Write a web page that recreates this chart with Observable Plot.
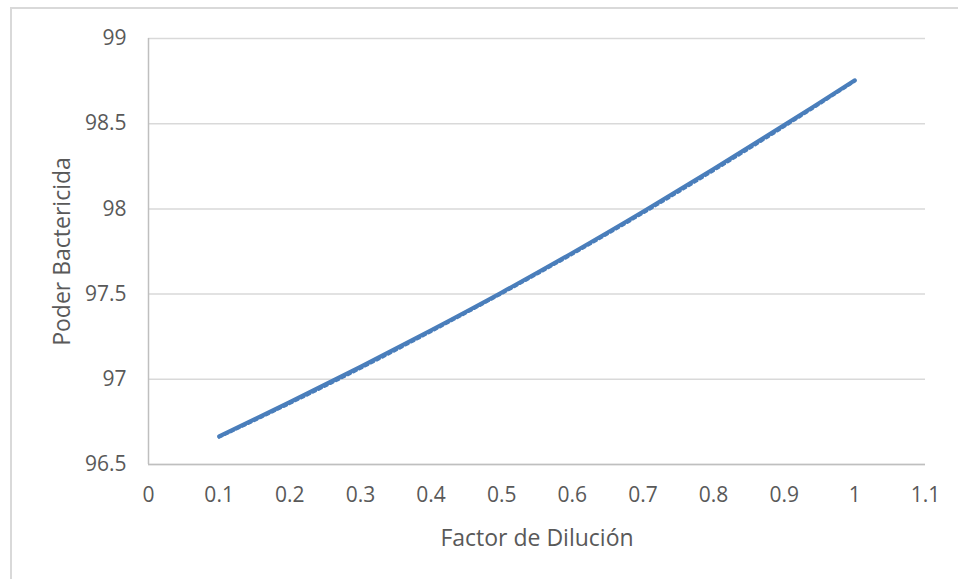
<!DOCTYPE html>
<html>
<head>
<meta charset="utf-8">
<script src="https://cdn.jsdelivr.net/npm/d3@7"></script>
<script src="https://cdn.jsdelivr.net/npm/@observablehq/plot@0.6"></script>
<style>
  html, body { margin: 0; padding: 0; background: #ffffff; overflow: hidden; }
  #wrap { position: relative; width: 958px; height: 579px; }
  #frame { position: absolute; left: 10px; top: 7px; width: 960px; height: 600px;
           border: 2px solid #d9d9d9; box-sizing: border-box; }
  #chart { position: absolute; left: 0; top: 0; }
</style>
</head>
<body>
<div id="wrap">
  <div id="frame"></div>
  <div id="chart"></div>
</div>
<script>
// Dilution factor vs. bactericidal power
const factor = [0.1, 0.2, 0.3, 0.4, 0.5, 0.6, 0.7, 0.8, 0.9, 1.0];
const poder = [96.665, 96.866, 97.073, 97.288, 97.510, 97.742, 97.984, 98.235, 98.492, 98.755];
// dotted trend line
const tendencia = [96.66, 96.858, 97.064, 97.28, 97.503, 97.734, 97.975, 98.225, 98.483, 98.75];

const xTicks = [0, 0.1, 0.2, 0.3, 0.4, 0.5, 0.6, 0.7, 0.8, 0.9, 1, 1.1];
const yTicks = [96.5, 97, 97.5, 98, 98.5, 99];
const xTitle = "Factor de Dilución";
const yTitle = "Poder Bactericida";

const serie = factor.map((f, i) => ({x: f, y: poder[i]}));
const trend = factor.map((f, i) => ({x: f, y: tendencia[i]}));

const blue = "#4a7ebb";
const textColor = "#595959";

const chart = Plot.plot({
  width: 958,
  height: 579,
  marginLeft: 148,
  marginRight: 33,
  marginTop: 38,
  marginBottom: 115,
  style: {fontFamily: "'Open Sans', sans-serif", background: "transparent"},
  x: {domain: [0, 1.1]},
  y: {domain: [96.5, 99]},
  marks: [
    Plot.gridY(yTicks, {stroke: "#d9d9d9", strokeOpacity: 1, strokeWidth: 1.5}),
    Plot.ruleX([0], {stroke: "#bfbfbf", strokeWidth: 1.5}),
    Plot.ruleY([96.5], {stroke: "#bfbfbf", strokeWidth: 1.5}),
    Plot.axisX(xTicks, {tickSize: 0, tickPadding: 23, fontSize: 21, fill: textColor,
                        tickFormat: d => `${d}`, label: null}),
    Plot.axisY(yTicks, {tickSize: 0, tickPadding: 22, fontSize: 21, fill: textColor,
                        tickFormat: d => `${d}`, label: null}),
    Plot.line(trend, {x: "x", y: "y", curve: "catmull-rom", stroke: blue,
                      strokeWidth: 3, strokeDasharray: "3,3.5"}),
    Plot.line(serie, {x: "x", y: "y", curve: "catmull-rom", stroke: blue,
                      strokeWidth: 4, strokeLinecap: "round"}),
    Plot.text([xTitle], {text: d => d, frameAnchor: "bottom", dy: 81, fontSize: 23, fill: textColor}),
    Plot.text([yTitle], {text: d => d, frameAnchor: "left", textAnchor: "middle", dx: -86,
                         rotate: -90, fontSize: 23, fill: textColor})
  ]
});
document.getElementById("chart").appendChild(chart);
</script>
</body>
</html>
